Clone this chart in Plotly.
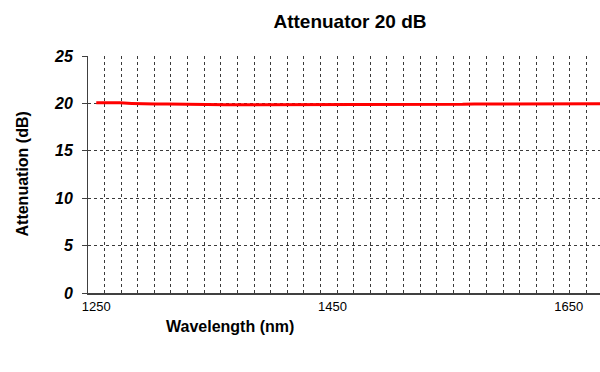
import plotly.graph_objects as go

# Data
wavelength_nm = [1250, 1260, 1270, 1280, 1290, 1300, 1310, 1320, 1330, 1340, 1350,
                 1360, 1370, 1380, 1390, 1400, 1410, 1420, 1430, 1440, 1450, 1460,
                 1470, 1480, 1490, 1500, 1510, 1520, 1530, 1540, 1550, 1560, 1570,
                 1580, 1590, 1600, 1610, 1620, 1630, 1640, 1650, 1660, 1670, 1680]
attenuation_db = [20.08, 20.08, 20.06, 20.00, 19.93, 19.93, 19.93, 19.93, 19.93, 19.93, 19.92,
                  19.86, 19.85, 19.85, 19.85, 19.85, 19.85, 19.85, 19.85, 19.85, 19.85, 19.85,
                  19.85, 19.85, 19.85, 19.85, 19.88, 19.90, 19.90, 19.90, 19.90, 19.90, 19.93,
                  19.93, 19.93, 19.93, 19.93, 19.96, 19.96, 19.96, 19.96, 19.96, 19.96, 19.96]
x_tick_vals = [1250, 1450, 1650]
x_tick_text = ["1250", "1450", "1650"]
y_tick_vals = [0, 5, 10, 15, 20, 25]
y_tick_text = ["0", "5", "10", "15", "20", "25"]
y_grid_vals = [5, 10, 15, 20]

FONT = "Arial, Liberation Sans, sans-serif"
GRID = "#3a3a3a"

fig = go.Figure()
fig.add_trace(go.Scatter(x=wavelength_nm, y=attenuation_db, mode="lines",
                         line=dict(color="#ff0000", width=3), showlegend=False))
# invisible helper trace for the overlay grid axis
fig.add_trace(go.Scatter(x=[wavelength_nm[0]], y=[0], yaxis="y2", mode="markers",
                         marker=dict(opacity=0), showlegend=False, hoverinfo="skip"))

fig.update_layout(
    width=600, height=372,
    margin=dict(l=88, r=0, t=56, b=79),
    paper_bgcolor="white", plot_bgcolor="white",
    font=dict(family=FONT, color="black"),
    title=dict(text="<b>Attenuator 20 dB</b>", x=350/600, xanchor="center",
               y=1-21/372, yanchor="middle", xref="container", yref="container",
               font=dict(size=19, family=FONT, color="black")),
    xaxis=dict(range=[1243, 1676.4], tickmode="array", tickvals=x_tick_vals,
               ticktext=x_tick_text, showgrid=False, zeroline=False,
               showline=True, linecolor="#404040", linewidth=2, ticks="",
               tickfont=dict(size=13, family=FONT, color="black"),
               minor=dict(tick0=1257.0, dtick=14.06, showgrid=True,
                          gridcolor=GRID, gridwidth=1, griddash="3px,3px")),
    yaxis=dict(range=[0, 25], tickmode="array", tickvals=y_tick_vals,
               ticktext=y_tick_text, showgrid=False, zeroline=False,
               showline=True, linecolor="#404040", linewidth=1,
               ticks="outside", ticklen=5, tickcolor="#404040",
               ticklabelstandoff=6,
               tickfont=dict(size=16, family=FONT, color="black", weight="bold", style="italic")),
    yaxis2=dict(range=[0, 25], overlaying="y", tickmode="array", tickvals=y_grid_vals,
                showticklabels=False, ticks="", showgrid=True, gridcolor=GRID,
                gridwidth=1, griddash="3px,3px", zeroline=False, showline=False),
    annotations=[
        dict(text="<b>Wavelength (nm)</b>", xref="paper", yref="paper",
             x=(230-88)/512, y=-(326-293)/237, xanchor="center", yanchor="middle",
             showarrow=False, font=dict(size=16, family=FONT, color="black")),
        dict(text="<b>Attenuation (dB)</b>", xref="paper", yref="paper",
             x=(22-88)/512, y=0.5, xanchor="center", yanchor="middle", textangle=-90,
             showarrow=False, font=dict(size=16, family=FONT, color="black")),
    ],
)
fig.write_html("out.html")
